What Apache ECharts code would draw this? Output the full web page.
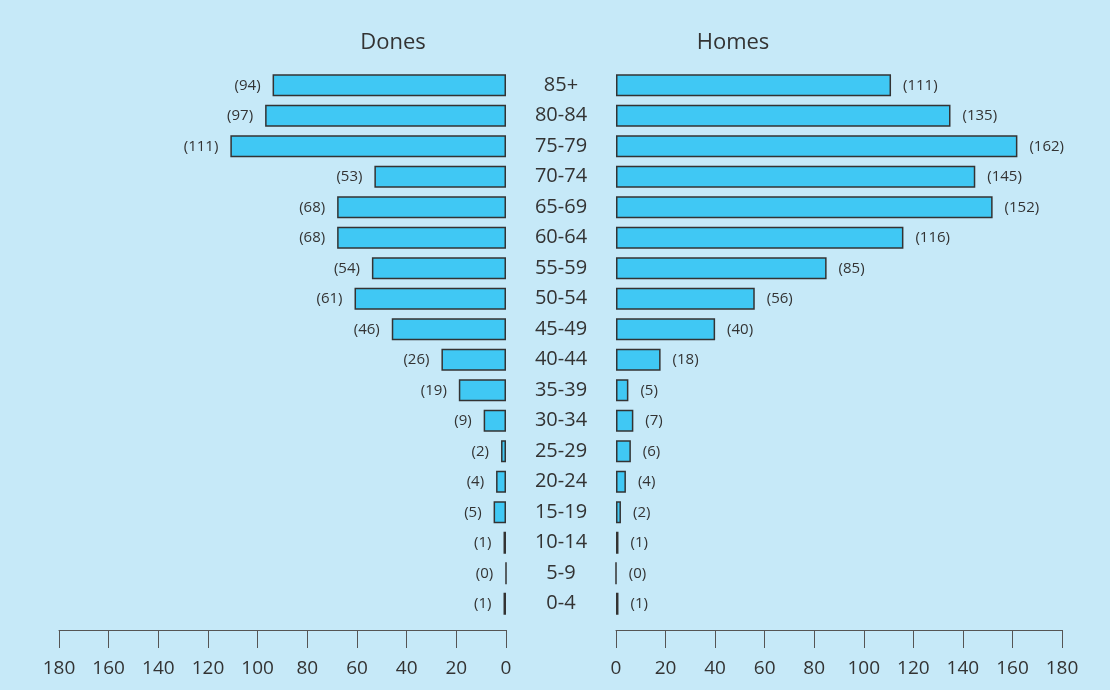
<!DOCTYPE html>
<html><head><meta charset="utf-8">
<script src="https://cdn.jsdelivr.net/npm/echarts@6/dist/echarts.min.js"></script>
<style>html,body{margin:0;padding:0;background:#c6e9f8;}#c{width:1110px;height:690px;}</style>
</head><body><div id="c"></div>
<script>
const categories = ['0-4','5-9','10-14','15-19','20-24','25-29','30-34','35-39','40-44','45-49','50-54','55-59','60-64','65-69','70-74','75-79','80-84','85+'];
const dones = [1,0,1,5,4,2,9,19,26,46,61,54,68,68,53,111,97,94];
const homes = [1,0,1,2,4,6,7,5,18,40,56,85,116,152,145,162,135,111];
const ticks = [0,20,40,60,80,100,120,140,160,180];

const FONT = '"Open Sans", "Noto Sans", sans-serif';
const barColor = '#40c8f4';
const axisColor = '#555';
const chart = echarts.init(document.getElementById('c'));
function xAx(idx, inverse){
  return {
    type:'value', gridIndex:idx, min:0, max:180, interval:20, inverse:inverse,
    position:'bottom', offset:11,
    axisLine:{show:true, lineStyle:{color:axisColor, width:1}},
    axisTick:{show:true, length:18, inside:false, lineStyle:{color:axisColor}},
    axisLabel:{show:true, margin:29, fontSize:19, color:'#333', fontFamily:FONT},
    splitLine:{show:false}
  };
}
chart.setOption({
  backgroundColor:'#c6e9f8',
  animation:false,
  title:[
    {text:'Dones', left:388, top:27, textAlign:'center', textStyle:{fontSize:22, fontWeight:'normal', color:'#333', fontFamily:FONT}},
    {text:'Homes', left:728, top:27, textAlign:'center', textStyle:{fontSize:22, fontWeight:'normal', color:'#333', fontFamily:FONT}}
  ],
  grid:[
    {left:59, width:447, top:70, height:549},
    {left:616, width:446, top:70, height:549}
  ],
  xAxis:[xAx(0,true), xAx(1,false)],
  yAxis:[
    {type:'category', gridIndex:0, data:categories, position:'right',
     axisLine:{show:false}, axisTick:{show:false},
     axisLabel:{show:true, margin:55, align:'center', fontSize:20, color:'#333', fontFamily:FONT, padding:[4,0,0,0]}},
    {type:'category', gridIndex:1, data:categories,
     axisLine:{show:false}, axisTick:{show:false}, axisLabel:{show:false}}
  ],
  series:[
    {type:'bar', xAxisIndex:0, yAxisIndex:0, data:dones, barWidth:22,
     itemStyle:{color:barColor, borderColor:'#333', borderWidth:1.5},
     label:{show:true, position:'left', distance:12, formatter:'({c})', fontSize:15, color:'#333', fontFamily:FONT}},
    {type:'bar', xAxisIndex:1, yAxisIndex:1, data:homes, barWidth:22,
     itemStyle:{color:barColor, borderColor:'#333', borderWidth:1.5},
     label:{show:true, position:'right', distance:12, formatter:'({c})', fontSize:15, color:'#333', fontFamily:FONT}}
  ]
});
</script></body></html>
